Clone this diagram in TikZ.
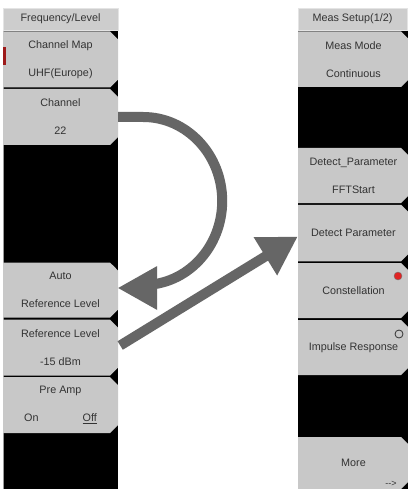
\documentclass[tikz,border=0pt]{standalone}
\usepackage{fontspec}
\setmainfont{Liberation Sans}
\usetikzlibrary{shapes.misc,arrows.meta}
\definecolor{btngray}{HTML}{C8C8C8}
\definecolor{hdrgray}{HTML}{CDCDCD}
\definecolor{hdredge}{HTML}{E4E4E4}
\definecolor{txtgray}{HTML}{333333}
\definecolor{arrowgray}{HTML}{666666}
\definecolor{dotred}{HTML}{E02424}
\definecolor{edgegray}{HTML}{9A9A9A}
\begin{document}
\begin{tikzpicture}[x=1pt,y=-1pt,
  btn/.style={chamfered rectangle, chamfered rectangle corners={north east,south east},
    chamfered rectangle xsep=4pt, chamfered rectangle ysep=4pt,
    fill=btngray, inner sep=0pt, align=center, text=txtgray,
    font={\fontsize{10.8}{28}\selectfont}},
  lbtn/.style={btn, minimum width=115pt},
  rbtn/.style={btn, minimum width=111pt},
  hdr/.style={rectangle, fill=hdrgray, draw=hdredge, line width=0.8pt, inner sep=0pt,
    text=txtgray, font={\fontsize{10.8}{12}\selectfont}},
  conn/.style={draw=arrowgray, line width=10pt},
  pane/.style={fill=black},
]
\useasboundingbox (0,0) rectangle (407,489);
\fill[white] (0,0) rectangle (407,489);

% panel backgrounds
\fill[pane] (3,30) rectangle (118,489);
\fill[pane] (298,30) rectangle (409,489);
\draw[edgegray, line width=1pt] (3.5,30) -- (3.5,489);

% left panel
\node[hdr, minimum width=115pt, minimum height=22pt] (lhdr) at (60.5,19) {Frequency/Level};
\node[lbtn, minimum height=56pt] (cmap) at (60.5,59.5) {Channel Map\\UHF(Europe)};
\node[lbtn, minimum height=56pt] (ch) at (60.5,117) {Channel\\22};
\node[lbtn, minimum height=55pt] (auto) at (60.5,290) {Auto\\Reference Level};
\node[lbtn, minimum height=56pt] (refl) at (60.5,347.5) {Reference Level\\-15 dBm};
\node[lbtn, minimum height=56pt] (pre) at (60.5,405) {Pre Amp\\On\hspace*{44pt}\underline{Off}};
\fill[dotred!70!black] (3,47) rectangle (5.5,65);

% right panel
\node[hdr, minimum width=109pt, minimum height=22pt] (rhdr) at (352.5,19) {Meas Setup(1/2)};
\node[rbtn, minimum height=55.5pt] (mm) at (353.5,59.25) {Meas Mode\\Continuous};
\node[rbtn, minimum height=55pt] (dpf) at (353.5,175.5) {Detect\_Parameter\\FFTStart};
\node[rbtn, minimum height=56.5pt] (dp) at (353.5,233) {Detect Parameter};
\node[rbtn, minimum height=55pt] (con) at (353.5,290.5) {Constellation};
\node[rbtn, minimum height=55pt] (imp) at (353.5,347.5) {Impulse Response};
\node[rbtn, minimum height=52pt] (more) at (353.5,463) {More};
\node[text=txtgray, font={\fontsize{9}{10}\selectfont}, inner sep=0pt] (next) at (391,484) {-\kern0pt-\kern0pt>};
\node[circle, fill=dotred, draw=black!55, line width=0.4pt, minimum size=8pt, inner sep=0pt] (reddot) at (398,276) {};
\node[circle, fill=btngray, draw=txtgray, line width=0.8pt, minimum size=8pt, inner sep=0pt] (opendot) at (399,334) {};

% connectors
\draw[conn] (ch.east) -- ++(25,0) arc[start angle=90, end angle=-90, x radius=79pt, y radius=84pt];
\fill[arrowgray] ([shift={(0,-2)}]auto.east) -- ++(39,-22) -- ++(0,44) -- cycle;
\draw[conn, -{Triangle[length=38pt,width=42pt]}] ([shift={(2,-2)}]refl.east) -- ([shift={(0,3.5)}]dp.west);
\end{tikzpicture}
\end{document}
